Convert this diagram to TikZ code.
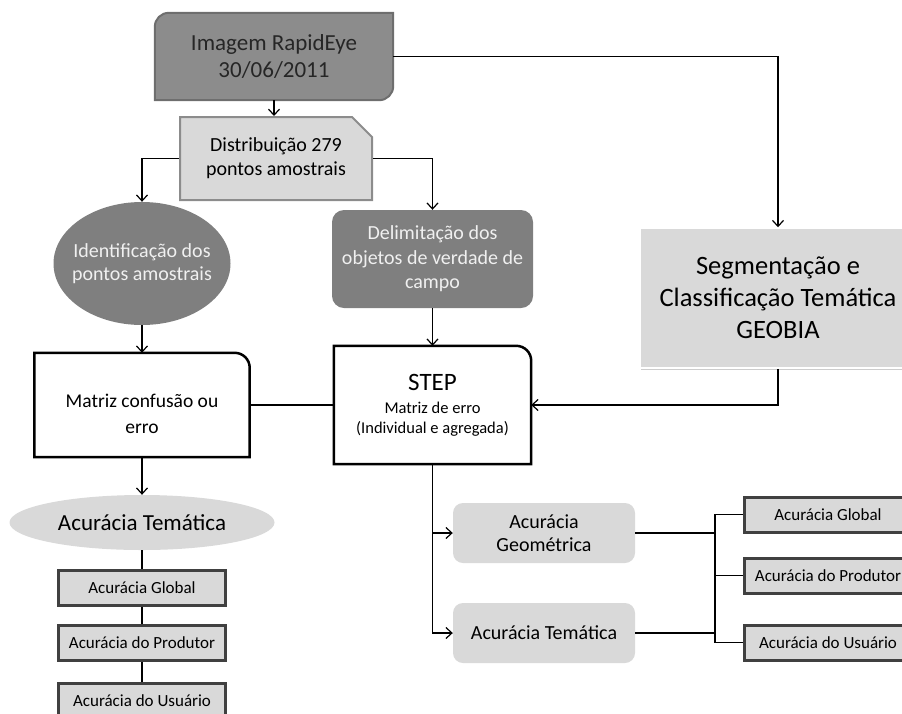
\documentclass[tikz,border=0pt]{standalone}
\usepackage{fontspec}
\setmainfont{Carlito}
\usetikzlibrary{arrows.meta,shapes.geometric,shapes.misc,shadows,backgrounds}

\definecolor{darkgrey}{HTML}{7F7F7F}
\definecolor{imggrey}{HTML}{8C8C8C}
\definecolor{imgedge}{HTML}{6E6E6E}
\definecolor{lightgrey}{HTML}{D9D9D9}
\definecolor{distedge}{HTML}{8C8C8C}
\definecolor{paletext}{HTML}{F0F0F0}
\definecolor{smalledge}{HTML}{404040}

\newcommand{\fsz}[2]{\fontsize{#1}{#2}\selectfont}

\begin{document}
\begin{tikzpicture}[x=1pt, y=-1pt,
        conn/.style={draw=black, line width=1.2pt},
        flow/.style={conn, -{Straight Barb[length=6pt,width=11pt]}},
        imgbox/.style={minimum width=238pt, minimum height=87pt, inner sep=0pt,
            align=center, text=black!85, font=\fsz{23}{27}},
        distbox/.style={chamfered rectangle, chamfered rectangle corners=north east,
            chamfered rectangle xsep=10pt, chamfered rectangle ysep=10pt,
            fill=lightgrey, draw=distedge, line width=2pt, minimum width=192pt,
            minimum height=83pt, inner sep=0pt, align=center, font=\fsz{20}{24}},
        darkell/.style={ellipse, fill=darkgrey, text=paletext, minimum width=177pt,
            minimum height=123pt, inner xsep=-30pt, inner ysep=-20pt, align=center,
            font=\fsz{20}{23.5}},
        darkbox/.style={rounded corners=12pt, fill=darkgrey, text=paletext,
            minimum width=201pt, minimum height=98pt, inner sep=0pt, align=center,
            font=\fsz{20}{24.5}},
        segbox/.style={fill=lightgrey, draw=white, line width=1.5pt,
            drop shadow={shadow xshift=1pt, shadow yshift=-1.5pt, opacity=0.4},
            minimum width=276pt, minimum height=140pt, align=center,
            font=\fsz{26.5}{32}},
        whitebox/.style={inner sep=0pt, align=center},
        lightell/.style={ellipse, fill=lightgrey, minimum width=265pt,
            minimum height=55pt, inner sep=0pt, font=\fsz{23}{27}},
        lightbox/.style={rounded corners=10pt, fill=lightgrey, minimum width=182pt,
            minimum height=60pt, inner sep=0pt, align=center, font=\fsz{20}{23}},
        smallbox/.style={fill=lightgrey, draw=smalledge, line width=3pt,
            minimum width=167pt, minimum height=35pt, inner sep=0pt,
            font=\fsz{17}{20}}]
    \useasboundingbox (0,0) rectangle (902,713);
    \clip (0,0) rectangle (902,713);
    % top
    \node[imgbox] (img) at (274,56.5) {Imagem RapidEye\\30/06/2011};
    \begin{scope}[on background layer]
        \filldraw[fill=imggrey, draw=imgedge, line width=2pt]
            (img.west) [rounded corners=14pt] -- (img.north west) -- (img.north)
            [sharp corners] -- (img.north east) -- (img.east) [rounded corners=14pt]
            -- (img.south east) -- (img.south) [sharp corners] -- (img.south west)
            -- cycle;
    \end{scope}
    \node[distbox] (dist) at (276,158.5) {Distribuição 279\\pontos amostrais};
    \node[darkell] (ident) at (142,263.5) {Identificação dos\\pontos amostrais};
    \node[darkbox] (delim) at (432.5,259) {Delimitação dos\\objetos de verdade de\\campo};
    \node[segbox] (seg) at (778,298) {Segmentação e\\Classificação Temática\\GEOBIA};
    % error matrices
    \node[whitebox, minimum width=215pt, minimum height=104pt, font=\fsz{19.5}{26}]
        (matriz) at (142,405) {\rule{0pt}{31pt}Matriz confusão ou\\erro};
    \node[whitebox, minimum width=197pt, minimum height=118pt, font=\fsz{16.5}{20}]
        (step) at (432.5,405) {{\fsz{25}{30}STEP}\\[3pt]Matriz de erro\\(Individual e agregada)};
    \foreach \n in {matriz, step}{
        \draw[line width=2.5pt] (\n.north) [rounded corners=15pt] -- (\n.north east)
            -- (\n.east) [sharp corners] -- (\n.south east) -- (\n.south west)
            -- (\n.north west) -- cycle;
    }
    % thematic accuracy, left
    \node[lightell] (tem) at (142,522.5) {Acurácia Temática};
    \foreach \y/\t [count=\i] in {587.5/Global, 642.5/do Produtor, 700.5/do Usuário}{
        \node[smallbox] (lg\i) at (142,\y) {Acurácia \t};
    }
    % accuracy, right
    \node[lightbox] (geo) at (544,533) {Acurácia\\Geométrica};
    \node[lightbox] (them) at (544,633) {Acurácia Temática};
    \foreach \y/\t [count=\i] in {514.5/Global, 575.5/do Produtor, 642.5/do Usuário}{
        \node[smallbox] (rg\i) at (828,\y) {Acurácia \t};
    }
    \coordinate (fork) at (715,575.5);
    % connectors
    \draw[flow] (img.south) -- (img.south |- dist.north);
    \draw[flow] (img.east) -| (seg.north);
    \draw[flow] (dist.west) -| (ident.north);
    \draw[flow] (dist.east) -| (delim.north);
    \draw[flow] (ident.south) -- (matriz.north);
    \draw[flow] (delim.south) -- (step.north);
    \draw[flow] (seg.south) |- (step.east);
    \draw[conn] (matriz.east) -- (step.west);
    \draw[flow] (matriz.south) -- (tem.north);
    \draw[conn] (tem.south) -- (lg1.north);
    \draw[conn] (lg1.south) -- (lg2.north);
    \draw[conn] (lg2.south) -- (lg3.north);
    \draw[flow] (step.south) |- (geo.west);
    \draw[flow] (step.south) |- (them.west);
    \draw[conn] (geo.east) -| (fork);
    \draw[conn] (them.east) -| (fork);
    \draw[conn] (fork) |- (rg1.west);
    \draw[conn] (fork) -- (rg2.west);
    \draw[conn] (fork) |- (rg3.west);
\end{tikzpicture}
\end{document}
